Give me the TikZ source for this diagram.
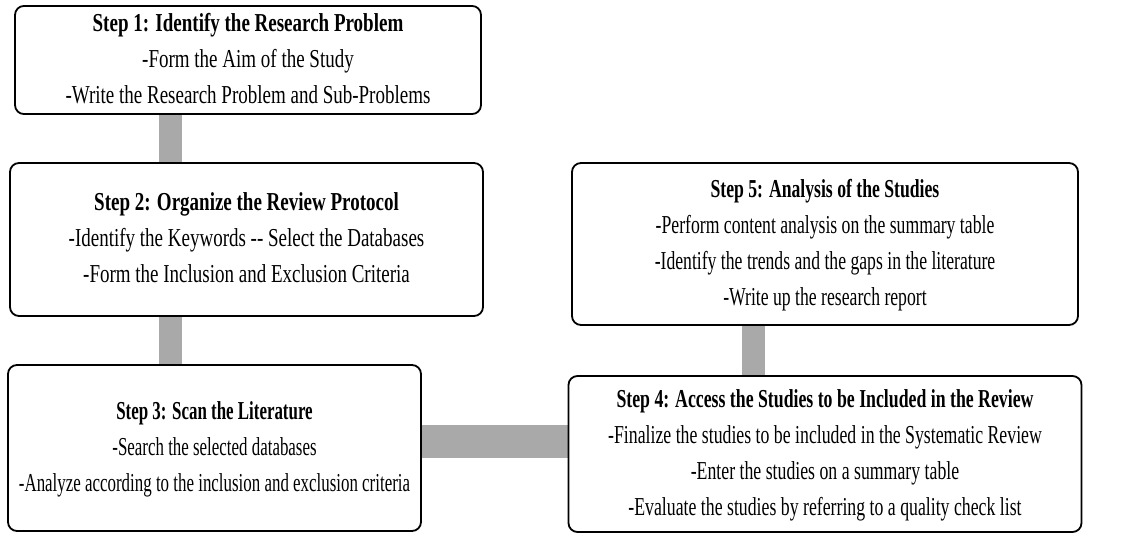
\documentclass[tikz,border=0pt]{standalone}
\usepackage{fontspec}
\setmainfont{Liberation Serif}
\usetikzlibrary{backgrounds}
\definecolor{conngray}{RGB}{169,169,169}
\tikzset{
  stepbox/.style={draw=black, line width=1.8pt, rounded corners=9pt, fill=white,
    inner sep=0pt, anchor=center, align=center},
  vconn/.style={draw=conngray, line width=23pt, line cap=butt},
  hconn/.style={draw=conngray, line width=33pt, line cap=butt}
}
\newcommand{\boxtext}[2]{\scalebox{#1}[1.36]{\fontsize{19}{26.5}\selectfont\begin{tabular}{@{}c@{}}#2\end{tabular}}}
\begin{document}
\begin{tikzpicture}[x=1pt,y=-1pt]
\useasboundingbox (0,0) rectangle (1126,533);
\node[stepbox, minimum width=466pt, minimum height=106pt] (b1) at (248,60)
  {\raisebox{-2pt}{\boxtext{1.0}{\textbf{Step 1: Identify the Research Problem}\\-Form the Aim of the Study\\-Write the Research Problem and Sub-Problems}}};
\node[stepbox, minimum width=473pt, minimum height=153pt] (b2) at (246.5,239.5)
  {\boxtext{1.0}{\textbf{Step 2: Organize the Review Protocol}\\-Identify the Keywords -{}- Select the Databases\\-Form the Inclusion and Exclusion Criteria}};
\node[stepbox, minimum width=413pt, minimum height=166pt] (b3) at (214.5,448)
  {\boxtext{0.89}{\textbf{Step 3: Scan the Literature}\\-Search the selected databases\\-Analyze according to the inclusion and exclusion criteria}};
\node[stepbox, minimum width=513pt, minimum height=156pt] (b4) at (825,454)
  {\raisebox{-2pt}{\boxtext{0.935}{\textbf{Step 4: Access the Studies to be Included in the Review}\\-Finalize the studies to be included in the Systematic Review\\-Enter the studies on a summary table\\-Evaluate the studies by referring to a quality check list}}};
\node[stepbox, minimum width=506pt, minimum height=162pt] (b5) at (825,244)
  {\boxtext{0.93}{\textbf{Step 5: Analysis of the Studies}\\-Perform content analysis on the summary table\\-Identify the trends and the gaps in the literature\\-Write up the research report}};
\coordinate (x12) at (170,0);
\coordinate (x54) at (753.5,0);
\coordinate (y34) at (0,441.5);
\begin{scope}[on background layer]
\draw[vconn] (b1.south -| x12) -- (b2.north -| x12);
\draw[vconn] (b2.south -| x12) -- (b3.north -| x12);
\draw[hconn] (b3.east |- y34) -- (b4.west |- y34);
\draw[vconn] (b5.south -| x54) -- (b4.north -| x54);
\end{scope}
\end{tikzpicture}
\end{document}
